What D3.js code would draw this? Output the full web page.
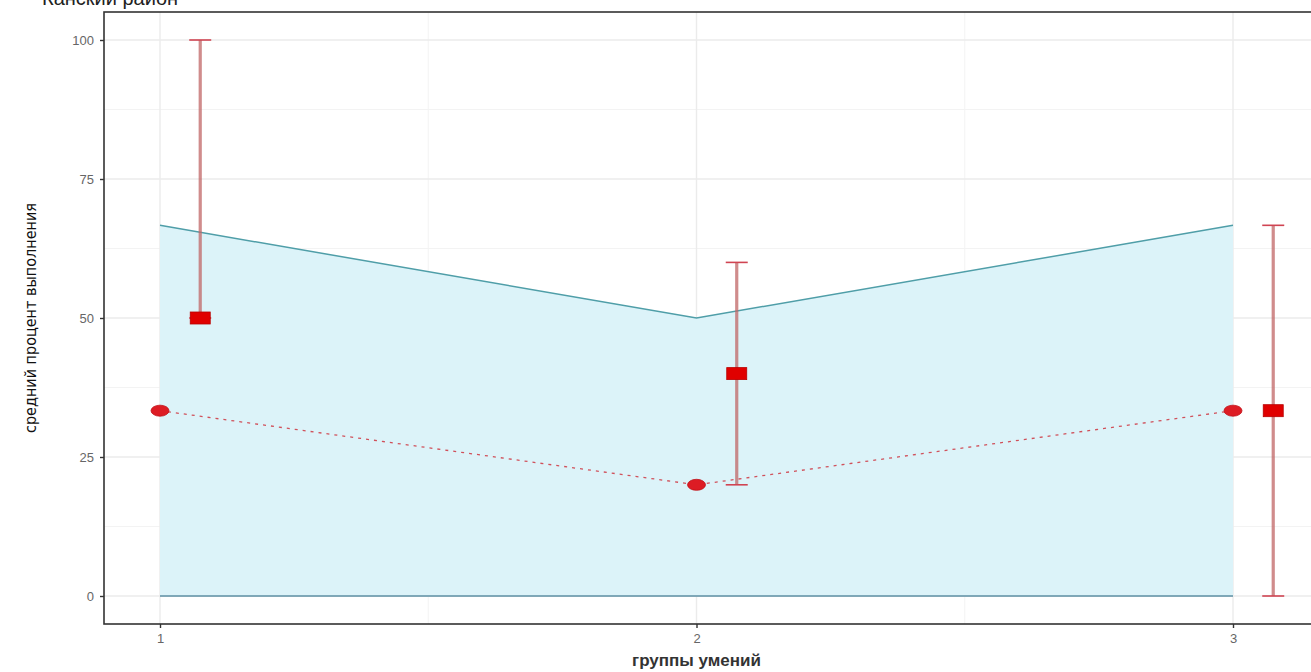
<!DOCTYPE html>
<html>
<head>
<meta charset="utf-8">
<script src="https://cdn.jsdelivr.net/npm/d3@7"></script>
<style>
  body { margin: 0; background: #fff; }
  svg { display: block; }
</style>
</head>
<body>
<svg id="chart" width="1311" height="672"></svg>
<script>
// groups of skills on the x axis
var groups = [1, 2, 3];
// upper edge of the shaded band
var bandTop = [66.67, 50, 66.67];
// district values (dotted line with round points)
var district = [33.33, 20, 33.33];
// mean with min / max (error bars, shifted to the right)
var meanVal = [50, 40, 33.33];
var minVal = [50, 20, 0];
var maxVal = [100, 60, 66.67];
var yTicks = [0, 25, 50, 75, 100];
var yMinor = [12.5, 37.5, 62.5, 87.5];
var xMinor = [1.5, 2.5];

var svg = d3.select("#chart");

var x = d3.scaleLinear().domain([1, 3]).range([160, 1233]);
var y = d3.scaleLinear().domain([0, 100]).range([596, 40]);

var panel = { left: 104, top: 12, right: 1330, bottom: 624 };
var dodge = 0.075;

// grid
var grid = svg.append("g");
grid.selectAll("line.ymin").data(yMinor).enter().append("line")
  .attr("x1", panel.left).attr("x2", panel.right)
  .attr("y1", d => y(d)).attr("y2", d => y(d))
  .attr("stroke", "#f3f3f3").attr("stroke-width", 1);
grid.selectAll("line.xmin").data(xMinor).enter().append("line")
  .attr("y1", panel.top).attr("y2", panel.bottom)
  .attr("x1", d => x(d)).attr("x2", d => x(d))
  .attr("stroke", "#f3f3f3").attr("stroke-width", 1);
grid.selectAll("line.ymaj").data(yTicks).enter().append("line")
  .attr("x1", panel.left).attr("x2", panel.right)
  .attr("y1", d => y(d)).attr("y2", d => y(d))
  .attr("stroke", "#ebebeb").attr("stroke-width", 1.4);
grid.selectAll("line.xmaj").data(groups).enter().append("line")
  .attr("y1", panel.top).attr("y2", panel.bottom)
  .attr("x1", d => x(d)).attr("x2", d => x(d))
  .attr("stroke", "#ebebeb").attr("stroke-width", 1.4);

// shaded band from 0 up to bandTop
var bandData = groups.map((g, i) => ({ g: g, v: bandTop[i] }));
svg.append("path")
  .datum(bandData)
  .attr("fill", "#dcf3f9")
  .attr("d", d3.area().x(d => x(d.g)).y0(y(0)).y1(d => y(d.v)));
svg.append("path")
  .datum(bandData)
  .attr("fill", "none")
  .attr("stroke", "#4f9ea8")
  .attr("stroke-width", 1.5)
  .attr("d", d3.line().x(d => x(d.g)).y(d => y(d.v)));
svg.append("line")
  .attr("x1", x(1)).attr("x2", x(3))
  .attr("y1", y(0)).attr("y2", y(0))
  .attr("stroke", "#5e8fa3").attr("stroke-width", 1.6);

// dotted district line
var distData = groups.map((g, i) => ({ g: g, v: district[i] }));
svg.append("path")
  .datum(distData)
  .attr("fill", "none")
  .attr("stroke", "#d0505a")
  .attr("stroke-width", 1.3)
  .attr("stroke-dasharray", "3,5")
  .attr("d", d3.line().x(d => x(d.g)).y(d => y(d.v)));

// error bars
var errData = groups.map((g, i) => ({ g: g + dodge, lo: minVal[i], hi: maxVal[i], m: meanVal[i] }));
var err = svg.append("g");
err.selectAll("line.bar").data(errData).enter().append("line")
  .attr("x1", d => x(d.g)).attr("x2", d => x(d.g))
  .attr("y1", d => y(d.lo)).attr("y2", d => y(d.hi))
  .attr("stroke", "#c06565").attr("stroke-opacity", 0.75).attr("stroke-width", 3.2);
["lo", "hi"].forEach(k => {
  err.selectAll("line.cap" + k).data(errData).enter().append("line")
    .attr("x1", d => x(d.g) - 11).attr("x2", d => x(d.g) + 11)
    .attr("y1", d => y(d[k])).attr("y2", d => y(d[k]))
    .attr("stroke", "#d04452").attr("stroke-width", 1.6);
});

// round points
svg.selectAll("ellipse.pt").data(distData).enter().append("ellipse")
  .attr("cx", d => x(d.g)).attr("cy", d => y(d.v))
  .attr("rx", 9).attr("ry", 5.5)
  .attr("fill", "#dd1c24").attr("stroke", "#c01018").attr("stroke-width", 0.8);

// square means
svg.selectAll("rect.mean").data(errData).enter().append("rect")
  .attr("x", d => x(d.g) - 10).attr("y", d => y(d.m) - 6)
  .attr("width", 20).attr("height", 12)
  .attr("fill", "#e00000").attr("stroke", "#b80000").attr("stroke-width", 0.8);

// panel border
svg.append("rect")
  .attr("x", panel.left).attr("y", panel.top)
  .attr("width", panel.right - panel.left).attr("height", panel.bottom - panel.top)
  .attr("fill", "none").attr("stroke", "#333").attr("stroke-width", 1.6);

// axes
var yAxis = d3.axisLeft(y).tickValues(yTicks).tickSize(4).tickPadding(6).tickFormat(d3.format("d"));
var gy = svg.append("g").attr("transform", "translate(" + panel.left + ",0)").call(yAxis);
var xAxis = d3.axisBottom(x).tickValues(groups).tickSize(4).tickPadding(6).tickFormat(d3.format("d"));
var gx = svg.append("g").attr("transform", "translate(0," + panel.bottom + ")").call(xAxis);
[gy, gx].forEach(g => {
  g.select(".domain").remove();
  g.selectAll(".tick line").attr("stroke", "#333").attr("stroke-width", 1.4);
  g.selectAll(".tick text")
    .attr("fill", "#666")
    .style("font-family", "Arial, 'Liberation Sans', sans-serif")
    .style("font-size", "13px");
});

// titles
svg.append("text")
  .attr("x", 42).attr("y", 5)
  .style("font-family", "Arial, 'Liberation Sans', sans-serif")
  .style("font-size", "20px")
  .attr("fill", "#222")
  .text("Канский район");

svg.append("text")
  .attr("x", x(2)).attr("y", 666)
  .attr("text-anchor", "middle")
  .style("font-family", "Arial, 'Liberation Sans', sans-serif")
  .style("font-size", "17px")
  .style("font-weight", "bold")
  .attr("fill", "#333")
  .text("группы умений");

svg.append("text")
  .attr("transform", "translate(36," + y(50) + ") rotate(-90)")
  .attr("text-anchor", "middle")
  .style("font-family", "'Liberation Sans Narrow', 'DejaVu Sans Condensed', sans-serif")
  .style("font-size", "16px")
  .style("font-stretch", "condensed")
  .attr("fill", "#111")
  .text("средний процент выполнения");
</script>
</body>
</html>
